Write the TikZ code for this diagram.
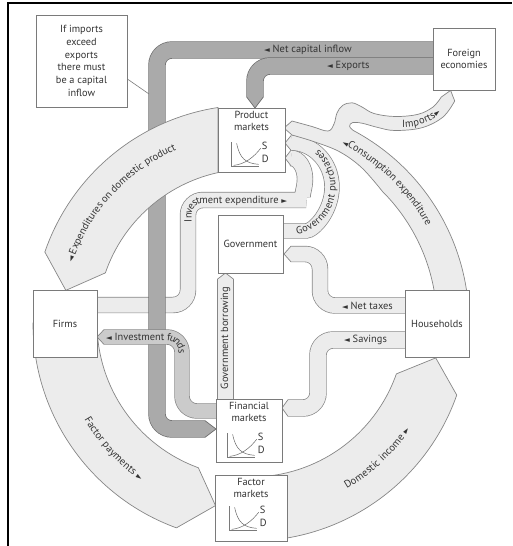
\documentclass[tikz,border=0pt]{standalone}
\usepackage{fontspec}
\setmainfont{PT Sans}
\newfontfamily\symfont{DejaVu Sans}
\usetikzlibrary{calc, positioning, decorations.text}

\definecolor{bandfill}{HTML}{ECECEC}
\definecolor{bandedge}{HTML}{868686}
\definecolor{darkfill}{HTML}{AAAAAA}
\definecolor{darkedge}{HTML}{6C6C6C}
\definecolor{midfill}{HTML}{CBCBCB}
\definecolor{boxedge}{HTML}{7A7A7A}
\definecolor{txt}{HTML}{333333}

\newcommand\bandfont{\fontsize{10.4}{11}\selectfont\color{txt}}
\newcommand\trifont{\symfont\fontsize{7.5}{8}\selectfont\color{txt}}
\newcommand\ltri{{\trifont ◄}}

% a flow pipe: [edge colour]{fill colour}{width}{path}
\newcommand\pipe[4][bandedge]{%
  \draw[line width=#3pt+1.4pt, draw=#1, rounded corners=15pt] #4;
  \draw[line width=#3pt, draw=#2, rounded corners=15pt] #4;}
% pointed end of a pipe
\newcommand\chev[5][bandedge]{%
  \filldraw[fill=#2, draw=#1, line width=.7pt] #3 -- #4 -- #5;}

\begin{document}
\begin{tikzpicture}[x=1pt, y=-1pt,
    box/.style={rectangle, draw=boxedge, line width=.7pt, fill=white, inner sep=0pt,
      align=center, text=txt, font=\fontsize{10.3}{12.8}\selectfont},
    boxtxt/.style={inner sep=0pt, align=center, text=txt, font=\fontsize{10.3}{12.8}\selectfont},
    band/.style={fill=bandfill, draw=bandedge, line width=.7pt},
    lbl/.style={inner sep=0pt, anchor=west, font=\bandfont},
    along/.style={decorate, decoration={text along path, raise=-3.5pt,
      text align={left, left indent=#1}}},
    sd/.pic={
      \draw[boxedge, line width=.5pt] (0,-24) -- (0,0) -- (27,0);
      \draw[txt!75, line width=.5pt] (5,-23) .. controls (8,-8) and (14,-3) .. (27,-2);
      \draw[txt!75, line width=.5pt] (2,-1) .. controls (13,-2) and (22,-9) .. (29,-18);
      \node[lbl] (-s) at (30,-20) {S};
      \node[lbl] (-d) at (30,-7) {D};
    }
  ]
  \useasboundingbox (0,0) rectangle (512,546);
  \draw[line width=2pt] (8,546) -- (8,3) -- (512,3);
  \coordinate (ctr) at (251,323);

  % investment expenditure runs under the capital pipe
  \pipe{bandfill}{15}{(90,305) -- (188,305) -- (188,200) -- (291,200)
    arc[start angle=90, end angle=-90, x radius=14, y radius=21]}
  \chev{bandfill}{(291,150.15)}{(285,158)}{(291,165.85)}

  % flows from abroad
  \pipe[darkedge]{darkfill}{16}{(440,50) -- (157,50) -- (157,429) -- (205,429)}
  \chev[darkedge]{darkfill}{(205,420.65)}{(216,429)}{(205,437.35)}
  \pipe[darkedge]{darkfill}{16}{(440,66) -- (255,66) -- (255,97)}
  \chev[darkedge]{darkfill}{(246.65,97)}{(255,108)}{(263.35,97)}

  \pipe{midfill}{14}{(222,411) -- (182,411) -- (182,337) -- (104,337)}
  \chev{midfill}{(104,329.65)}{(97,337)}{(104,344.35)}

  \pipe{bandfill}{14}{(275,231) -- (291,231)
    arc[start angle=90, end angle=-90, x radius=41, y radius=44]}
  \chev{bandfill}{(291,135.65)}{(285,143)}{(291,150.35)}
  \pipe{bandfill}{15}{(410,305.5) -- (320,305.5) -- (320,254) -- (291,254)}
  \chev{bandfill}{(291,246.15)}{(284,254)}{(291,261.85)}
  \pipe{bandfill}{16}{(410,340) -- (318,340) -- (318,408) -- (288,408)}
  \chev{bandfill}{(288,399.65)}{(282,408)}{(288,416.35)}
  \pipe{bandfill}{15}{(225.5,405) -- (225.5,279)}
  \chev{bandfill}{(217.65,279)}{(225.5,273)}{(233.35,279)}

  % the circular flow
  \filldraw[band] (218,107.5) arc[start angle=-98.7, end angle=-161, radius=218]
    -- ($(ctr)+(-170:188)$) -- ($(ctr)+(-161:154)$)
    arc[start angle=-161, end angle=-102.4, radius=154] -- cycle;
  \filldraw[band] ($(ctr)+(180:218)$) arc[start angle=180, end angle=110, radius=218]
    -- ($(ctr)+(101:186)$) -- ($(ctr)+(110:154)$)
    arc[start angle=110, end angle=180, radius=154] -- cycle;
  \filldraw[band] ($(ctr)+(90:218)$) arc[start angle=90, end angle=19.3, radius=218]
    -- ($(ctr)+(10.7:188)$) -- ($(ctr)+(19.3:154)$)
    arc[start angle=19.3, end angle=90, radius=154] -- cycle;
  \filldraw[band] ($(ctr)+(0:218)$) arc[start angle=0, end angle=-62, radius=218]
    -- plot[smooth, tension=.6] coordinates {(353.3,130.5) (349.6,126.3) (352.5,122.6)
      (362,123.2) (378,127.5) (395,130.5) (422,127.7) (443,117) (454.7,101)}
    -- (450.6,90.4)
    -- plot[smooth, tension=.6] coordinates {(441.3,97) (433,107) (418,114.3) (395,116.5)
      (374,113.5) (362,107) (352,102.8) (342.5,105.5) (337,113) (334,124) (328,131)
      (312,126.5) (292,121)}
    -- (284,128)
    -- plot[smooth, tension=.6] coordinates {(292,135) (315,142) (340,152) (362,168) (382.5,191.5)}
    arc[start angle=-45, end angle=0, radius=186] -- cycle;

  % boxes
  \node[box, minimum width=91, minimum height=92] (note) at (81.5,61)
    {If imports\\exceed\\exports\\there must\\be a capital\\inflow};
  \node[box, minimum width=62, minimum height=62] (fe) at (464,59) {Foreign\\economies};
  \node[box, minimum width=67, minimum height=64] (pm) at (251.5,140) {};
  \node[box, minimum width=65, minimum height=58] (gov) at (250.5,244) {Government};
  \node[box, minimum width=64, minimum height=67] (firms) at (65,323.5) {Firms};
  \node[box, minimum width=64, minimum height=67] (hh) at (437,323.5) {Households};
  \node[box, minimum width=66, minimum height=63] (fm) at (249,430.5) {};
  \node[box, minimum width=72, minimum height=66] (fac) at (251,508) {};
  \node[boxtxt, below=3pt of pm.north] (pmtxt) {Product\\markets};
  \node[boxtxt, below=3pt of fm.north] (fmtxt) {Financial\\markets};
  \node[boxtxt, below=3pt of fac.north] (factxt) {Factor\\markets};
  \pic (pmsd) at ($(pm.south west)+(14,-6)$) {sd};
  \pic (fmsd) at ($(fm.south west)+(12,-5)$) {sd};
  \pic (facsd) at ($(fac.south west)+(15,-11)$) {sd};
  \coordinate (pipehit) at (149,94);
  \draw[boxedge, line width=.6pt] ($(note.east)+(0,18)$) -- (pipehit);

  % flow labels
  \node[lbl] (capl) at (264,50) {\ltri\ Net capital inflow};
  \node[lbl] (expl) at (327,66) {\ltri\ Exports};
  \node[lbl] (taxl) at (342,305.5) {\ltri\ Net taxes};
  \node[lbl] (savl) at (344,340) {\ltri\ Savings};
  \node[lbl, anchor=center, rotate=90] (borl) at (225.5,338) {Government borrowing};
  \path[along=2pt, decoration={text={|\trifont|◄|\bandfont| Expenditures on domestic product}}]
    ($(ctr)+(-162:192)$) arc[start angle=-162, end angle=-92, radius=192];
  \path[along=0pt, decoration={text={|\bandfont|Factor payments |\trifont|►}}]
    ($(ctr)+(150:189)$) arc[start angle=150, end angle=108, radius=189];
  \path[along=0pt, decoration={text={|\bandfont|Domestic income |\trifont|►}}]
    ($(ctr)+(60:188)$) arc[start angle=60, end angle=18, radius=188];
  \path[along=0pt, decoration={text={|\trifont|◄|\bandfont|Consumption expenditure}}]
    ($(ctr)+(-63:204)$) arc[start angle=-63, end angle=-12, radius=204];
  \path[along=1pt, decoration={text={|\bandfont|Imports|\trifont|►}}]
    (401,123.5) .. controls (424,124) and (440,114) .. (449,96);
  \path[along=5pt, decoration={text={|\bandfont|Government purchases}}]
    (291,231) arc[start angle=90, end angle=-90, x radius=41, y radius=44];
  \path[rounded corners=15pt, along=0pt,
    decoration={text={|\bandfont|Investment expenditure |\trifont|►}}]
    (188,222) -- (188,200) -- (320,200);
  \path[rounded corners=15pt, along=3pt,
    decoration={text={|\trifont|◄|\bandfont| Investment funds}}]
    (103,337) -- (182,337) -- (182,395);
\end{tikzpicture}
\end{document}
